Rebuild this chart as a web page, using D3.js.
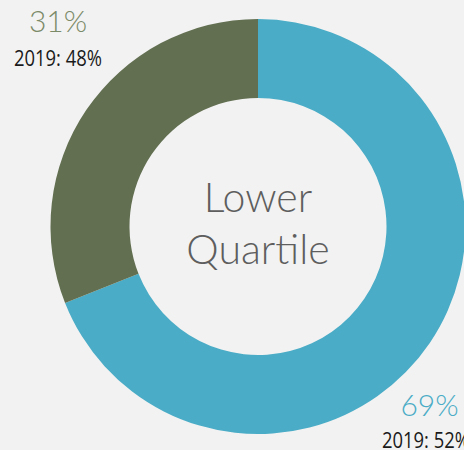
<!DOCTYPE html>
<html>
<head>
<meta charset="utf-8">
<script src="https://cdn.jsdelivr.net/npm/d3@7"></script>
<style>
  html, body { margin: 0; padding: 0; background: #f2f2f2; overflow: hidden; }
  svg { display: block; }
</style>
</head>
<body>
<svg id="chart" width="464" height="450"></svg>
<script>
// data
const segments = ["b", "a"];
const shares = [69, 31];
const prevYear = ["2019: 52%", "2019: 48%"];
const colors = ["#4aacc6", "#626f50"];
const labelColors = ["#4aacc6", "#7b8a68"];
const centerLines = ["Lower", "Quartile"];

const svg = d3.select("#chart");
const cx = 258, cy = 226.5;
const outerR = 207.5, innerR = 128.5;

const pie = d3.pie().sort(null).value(d => d);
const arc = d3.arc().innerRadius(innerR).outerRadius(outerR);

const g = svg.append("g").attr("transform", `translate(${cx},${cy})`);

g.selectAll("path")
  .data(pie(shares))
  .enter()
  .append("path")
  .attr("d", arc)
  .attr("fill", (d, i) => colors[i]);

// center text
svg.append("text")
  .attr("x", cx)
  .attr("y", 211.5)
  .attr("text-anchor", "middle")
  .style("font-family", "Lato")
  .style("font-weight", 300)
  .style("font-size", "41px")
  .style("fill", "#5e5e5e")
  .text(centerLines[0]);
svg.append("text")
  .attr("x", cx)
  .attr("y", 264)
  .attr("text-anchor", "middle")
  .style("font-family", "Lato")
  .style("font-weight", 300)
  .style("font-size", "41px")
  .style("fill", "#5e5e5e")
  .text(centerLines[1]);

// segment labels (percent + 2019 value)
const labelPos = [
  { x: 429.5, y: 416, x2: 382, y2: 447.5 },
  { x: 58, y: 31.5, x2: 14, y2: 65.5 }
];

labelPos.forEach((p, i) => {
  svg.append("text")
    .attr("x", p.x)
    .attr("y", p.y)
    .attr("text-anchor", "middle")
    .style("font-family", "Lato")
    .style("font-weight", 300)
    .style("font-size", "30px")
    .style("fill", labelColors[i])
    .text(shares[i] + "%");
  svg.append("text")
    .attr("x", p.x2)
    .attr("y", p.y2)
    .attr("textLength", 88)
    .attr("lengthAdjust", "spacingAndGlyphs")
    .style("font-family", "Open Sans")
    .style("font-size", "21.5px")
    .style("fill", "#1a1a1a")
    .text(prevYear[i]);
});
</script>
</body>
</html>
